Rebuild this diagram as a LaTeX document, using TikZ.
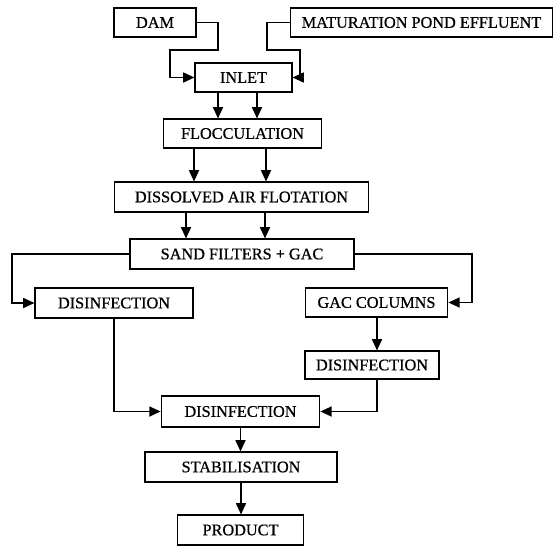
\documentclass[tikz,border=0pt]{standalone}
\usepackage{fontspec}
\setmainfont{Liberation Serif}
\newfontfamily\boxfont{Liberation Serif}[FakeBold=0.7]
\usetikzlibrary{arrows.meta}

\begin{document}
\begin{tikzpicture}[x=0.75pt, y=-0.75pt,
	box/.style={rectangle, draw, line width=0.8pt, text centered, inner sep=0pt, font=\boxfont\fontsize{12.2}{14}\selectfont},
	flow/.style={line width=1.3pt, -{Triangle[length=8.5pt,width=7.5pt]}}]
	\useasboundingbox (0,0) rectangle (560,546);

	\node (dam) [box, minimum width=61.5pt, minimum height=21.75pt] at (155,22.5) {DAM};
	\node (pond) [box, minimum width=197pt, minimum height=21.75pt] at (421.5,22.5) {MATURATION POND EFFLUENT};
	\node (inlet) [box, minimum width=72.75pt, minimum height=21.75pt] at (243.5,77.5) {INLET};
	\node (floc) [box, minimum width=119pt, minimum height=21.75pt] at (242.5,133.5) {FLOCCULATION};
	\node (daf) [box, minimum width=191pt, minimum height=22.5pt] at (241.5,197) {DISSOLVED AIR FLOTATION};
	\node (sand) [box, minimum width=168pt, minimum height=22.5pt] at (242,254) {SAND FILTERS + GAC};
	\node (disa) [box, minimum width=118.5pt, minimum height=22.5pt] at (114,303) {DISINFECTION};
	\node (gac) [box, minimum width=107pt, minimum height=21.75pt] at (376.5,302.5) {GAC COLUMNS};
	\node (disb) [box, minimum width=100.5pt, minimum height=21pt] at (372,365) {DISINFECTION};
	\node (disc) [box, minimum width=119pt, minimum height=23.25pt] at (240.5,411.5) {DISINFECTION};
	\node (stab) [box, minimum width=144pt, minimum height=22.5pt] at (241,467) {STABILISATION};
	\node (prod) [box, minimum width=95pt, minimum height=22.5pt] at (240.5,530) {PRODUCT};

	\draw[flow] (dam.east) -| (218,50) -| (170,77.5) -- (inlet.west);
	\draw[flow] (pond.west) -| (267,50) -| (300,77.5) -- (inlet.east);
	\draw[flow] (inlet.south -| 218,0) -- (floc.north -| 218,0);
	\draw[flow] (inlet.south -| 257,0) -- (floc.north -| 257,0);
	\draw[flow] (floc.south -| 194,0) -- (daf.north -| 194,0);
	\draw[flow] (floc.south -| 266,0) -- (daf.north -| 266,0);
	\draw[flow] (daf.south -| 186,0) -- (sand.north -| 186,0);
	\draw[flow] (daf.south -| 265,0) -- (sand.north -| 265,0);
	\draw[flow] (sand.west) -| (12,303) -- (disa.west);
	\draw[flow] (sand.east) -| (472,302.5) -- (gac.east);
	\draw[flow] (gac.south -| 377,0) -- (disb.north -| 377,0);
	\draw[flow] (disa.south) |- (disc.west);
	\draw[flow] (disb.south -| 377,0) |- (disc.east);
	\draw[flow] (disc.south) -- (stab.north -| disc.south);
	\draw[flow] (stab.south) -- (prod.north -| stab.south);
\end{tikzpicture}
\end{document}
